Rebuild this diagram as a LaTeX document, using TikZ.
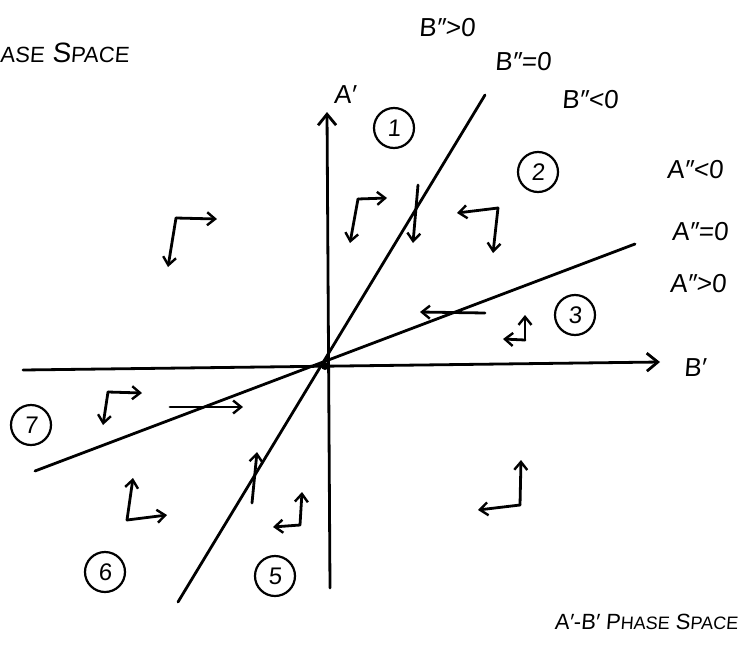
\documentclass[tikz,border=0pt]{standalone}
\usepackage{fontspec}
\setmainfont{Liberation Sans}[FakeSlant=0.08]
\usetikzlibrary{arrows.meta}
\begin{document}
\begin{tikzpicture}[x=1pt,y=-1pt,
  ink/.style={line width=2.8pt, line cap=round, line join=round},
  vec/.style={ink, -{Straight Barb[length=8pt,width=13pt,line width=2.4pt]}},
  axis/.style={ink, -{Straight Barb[length=11pt,width=18pt,line width=2.8pt]}},
  lbl/.style={font=\fontsize{26}{26}\selectfont, inner sep=0pt},
  ttl/.style={font=\fontsize{28}{28}\selectfont, inner sep=0pt},
  num/.style={draw, circle, line width=2.2pt, minimum size=40pt, inner sep=0pt, font=\fontsize{24}{24}\selectfont}
]
\useasboundingbox (0,0) rectangle (744,648);

% axes and nullclines
\coordinate (O) at (325,366);
\coordinate (vb) at (330,588);
\coordinate (vt) at (327,112);
\coordinate (hl) at (23,370);
\coordinate (hr) at (660,362);
\coordinate (bb) at (178,602);
\coordinate (bt) at (485,95);
\coordinate (al) at (35,471);
\coordinate (ar) at (635,244);
\draw[axis] (vb) -- (vt);
\draw[axis] (hl) -- (hr);
\draw[ink] (bb) -- (bt);
\draw[ink] (al) -- (ar);
\fill (O) circle (4);

% labels
\node[lbl] (la) at (345,95) {A′};
\node[lbl] (lb) at (695,368) {B′};
\node[lbl] (bp) at (447,28) {B″>0};
\node[lbl] (bz) at (523,62) {B″=0};
\node[lbl] (bn) at (590,100) {B″<0};
\node[lbl] (an) at (695,170) {A″<0};
\node[lbl] (az) at (700,232) {A″=0};
\node[lbl] (ap) at (698,284) {A″>0};
\node[ttl, anchor=west] (t1) at (0,53) {{\fontsize{22}{22}\selectfont ASE} S{\fontsize{22}{22}\selectfont PACE}};
\node[ttl, anchor=east, font=\fontsize{22}{22}\selectfont] (t2) at (738,622) {A′-B′ P{\fontsize{18}{18}\selectfont HASE} S{\fontsize{18}{18}\selectfont PACE}};

% region numbers
\node[num] (n1) at (394,128) {1};
\node[num] (n2) at (538,172) {2};
\node[num] (n3) at (575,315) {3};
\node[num] (n5) at (275,576) {5};
\node[num] (n6) at (105,572) {6};
\node[num] (n7) at (31,425) {7};

% direction indicators
\coordinate (c0) at (176,218); \coordinate (c0r) at (217,219); \coordinate (c0d) at (168,267);
\draw[vec] (c0) -- (c0r); \draw[vec] (c0) -- (c0d);
\coordinate (c1) at (358,199); \coordinate (c1r) at (387,198); \coordinate (c1d) at (350,243);
\draw[vec] (c1) -- (c1r); \draw[vec] (c1) -- (c1d);
\coordinate (d1s) at (418,185); \coordinate (d1e) at (413,243);
\draw[vec] (d1s) -- (d1e);
\coordinate (c2) at (498,208); \coordinate (c2l) at (457,213); \coordinate (c2d) at (493,253);
\draw[vec] (c2) -- (c2l); \draw[vec] (c2) -- (c2d);
\coordinate (d2s) at (485,313); \coordinate (d2e) at (420,312);
\draw[vec] (d2s) -- (d2e);
\coordinate (c3) at (525,340); \coordinate (c3u) at (525,315); \coordinate (c3l) at (503,339);
\draw[vec] (c3) -- (c3u); \draw[vec] (c3) -- (c3l);
\coordinate (c4) at (520,505); \coordinate (c4u) at (521,460); \coordinate (c4l) at (478,510);
\draw[vec] (c4) -- (c4u); \draw[vec] (c4) -- (c4l);
\coordinate (c5) at (300,525); \coordinate (c5u) at (302,492); \coordinate (c5l) at (273,527);
\draw[vec] (c5) -- (c5u); \draw[vec] (c5) -- (c5l);
\coordinate (d3s) at (252,503); \coordinate (d3e) at (257,452);
\draw[vec] (d3s) -- (d3e);
\coordinate (c6) at (127,520); \coordinate (c6u) at (133,478); \coordinate (c6r) at (167,515);
\draw[vec] (c6) -- (c6u); \draw[vec] (c6) -- (c6r);
\coordinate (d4s) at (170,407); \coordinate (d4e) at (243,407);
\draw[vec] (d4s) -- (d4e);
\coordinate (c7) at (108,392); \coordinate (c7r) at (142,393); \coordinate (c7d) at (103,425);
\draw[vec] (c7) -- (c7r); \draw[vec] (c7) -- (c7d);
\end{tikzpicture}
\end{document}
